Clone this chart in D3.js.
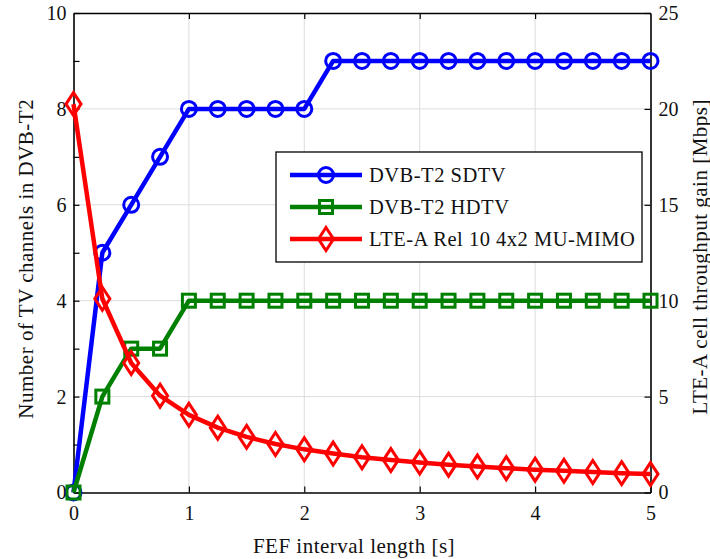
<!DOCTYPE html>
<html>
<head>
<meta charset="utf-8">
<script src="https://cdn.jsdelivr.net/npm/d3@7"></script>
<style>
  body { margin: 0; background: #fff; }
</style>
</head>
<body>
<div id="chart"></div>
<script>
const xVals = [0, 0.25, 0.5, 0.75, 1, 1.25, 1.5, 1.75, 2, 2.25, 2.5, 2.75, 3, 3.25, 3.5, 3.75, 4, 4.25, 4.5, 4.75, 5]
const sdtv = [0, 5, 6, 7, 8, 8, 8, 8, 8, 9, 9, 9, 9, 9, 9, 9, 9, 9, 9, 9, 9]
const hdtv = [0, 2, 3, 3, 4, 4, 4, 4, 4, 4, 4, 4, 4, 4, 4, 4, 4, 4, 4, 4, 4]
const lteGain = [20.25, 10.1, 6.75, 5.05, 4.05, 3.38, 2.9, 2.53, 2.25, 2.03, 1.84, 1.69, 1.56, 1.45, 1.35, 1.27, 1.19, 1.13, 1.07, 1.01, 0.96]
const seriesNames = ["DVB-T2 SDTV", "DVB-T2 HDTV", "LTE-A Rel 10 4x2 MU-MIMO"]
const seriesColors = ["#0000ff", "#008000", "#ff0000"]

const FONT = '"Liberation Serif"'

const W = 710, H = 559
let margin = { top: 13, right: 59.5, bottom: 66.5, left: 73.5 },
    width = W - margin.left - margin.right,
    height = H - margin.top - margin.bottom;

const svg = d3.select("#chart")
    .append("svg")
    .attr("width", W)
    .attr("height", H)
    .append("g")
    .attr("transform", `translate(${margin.left}, ${margin.top})`);

const x = d3.scaleLinear().domain([0, 5]).range([0, width])
const yL = d3.scaleLinear().domain([0, 10]).range([height, 0])
const yR = d3.scaleLinear().domain([0, 25]).range([height, 0])

/* grid */
svg.append("g").selectAll("line")
    .data([1, 2, 3, 4])
    .enter().append("line")
    .attr("x1", d => x(d)).attr("x2", d => x(d))
    .attr("y1", 0).attr("y2", height)
    .attr("stroke", "#dcdcdc").attr("stroke-width", 1)
svg.append("g").selectAll("line")
    .data([2, 4, 6, 8])
    .enter().append("line")
    .attr("x1", 0).attr("x2", width)
    .attr("y1", d => yL(d)).attr("y2", d => yL(d))
    .attr("stroke", "#dcdcdc").attr("stroke-width", 1)

/* axes */
const styleAxis = g => {
    g.attr("font-family", null)
    g.selectAll("path.domain").attr("stroke", "#000").attr("stroke-width", 1.6)
    g.selectAll(".tick line").attr("stroke", "#000").attr("stroke-width", 1.2)
    g.selectAll("text").style("font-size", "20px").style("font-family", FONT).attr("fill", "#111")
}

svg.append("g")
    .attr("transform", `translate(0, ${height})`)
    .call(d3.axisBottom(x).tickValues([0, 1, 2, 3, 4, 5]).tickSizeInner(-6).tickSizeOuter(0).tickPadding(13).tickFormat(d3.format("d")))
    .call(styleAxis)

svg.append("g")
    .call(d3.axisTop(x).tickValues([1, 2, 3, 4]).tickSizeInner(-6).tickSizeOuter(0).tickFormat(""))
    .call(styleAxis)

svg.append("g")
    .call(d3.axisLeft(yL).tickValues(d3.range(0, 11)).tickSizeInner(-6).tickSizeOuter(0).tickPadding(7)
        .tickFormat(d => d % 2 ? "" : d))
    .call(styleAxis)

svg.append("g")
    .attr("transform", `translate(${width}, 0)`)
    .call(d3.axisRight(yR).tickValues([0, 5, 10, 15, 20, 25]).tickSizeInner(-6).tickSizeOuter(0).tickPadding(8))
    .call(styleAxis)

/* axis titles */
const title = t => t
    .attr("text-anchor", "middle")
    .style("font-family", FONT)
    .style("font-size", "21px")
    .style("letter-spacing", "0.5px")
    .attr("fill", "#111")

svg.append("text")
    .attr("x", x(2.5) - 8)
    .attr("y", height + 60)
    .call(title)
    .text("FEF interval length [s]")

svg.append("text")
    .attr("transform", "rotate(-90)")
    .attr("x", -(height / 2) - 6)
    .attr("y", -41)
    .call(title)
    .text("Number of TV channels in DVB-T2")

svg.append("text")
    .attr("transform", "rotate(-90)")
    .attr("x", -(height / 2) - 4)
    .attr("y", width + 56)
    .call(title)
    .text("LTE-A cell throughput gain [Mbps]")

/* markers */
const circle = (g, c) => g.append("circle").attr("r", 7.5).attr("fill", "none").attr("stroke", c).attr("stroke-width", 3)
const square = (g, c) => g.append("rect").attr("x", -6.5).attr("y", -6.5).attr("width", 13).attr("height", 13).attr("fill", "none").attr("stroke", c).attr("stroke-width", 3)
const diamond = (g, c) => g.append("path").attr("d", "M0,-11.5L7.5,0L0,11.5L-7.5,0Z").attr("fill", "none").attr("stroke", c).attr("stroke-width", 3)
const markers = [circle, square, diamond]

const series = [
    { vals: sdtv, y: yL },
    { vals: hdtv, y: yL },
    { vals: lteGain, y: yR }
]

series.forEach((s, i) => {
    const line = d3.line().x((d, j) => x(xVals[j])).y(d => s.y(d))
    svg.append("path")
        .datum(s.vals)
        .attr("d", line)
        .attr("fill", "none")
        .attr("stroke", seriesColors[i])
        .attr("stroke-width", 4.5)
        .attr("stroke-linejoin", "round")
    svg.selectAll("mk" + i)
        .data(s.vals)
        .enter()
        .append("g")
        .attr("transform", (d, j) => `translate(${x(xVals[j])}, ${s.y(d)})`)
        .each(function () { markers[i](d3.select(this), seriesColors[i]) })
})

/* legend */
const legend = svg.append("g").attr("transform", `translate(${276 - margin.left}, ${152 - margin.top})`)
legend.append("rect")
    .attr("width", 366).attr("height", 110)
    .attr("fill", "#fff").attr("stroke", "#000").attr("stroke-width", 1.3)
seriesNames.forEach((name, i) => {
    const yy = 23 + i * 32
    legend.append("line")
        .attr("x1", 14).attr("x2", 86).attr("y1", yy).attr("y2", yy)
        .attr("stroke", seriesColors[i]).attr("stroke-width", 4.5)
    const g = legend.append("g").attr("transform", `translate(50, ${yy})`)
    markers[i](g, seriesColors[i])
    legend.append("text")
        .attr("x", 93).attr("y", yy + 7)
        .style("font-family", FONT)
        .style("font-size", "20.5px")
        .style("letter-spacing", "0.5px")
        .attr("fill", "#111")
        .text(name)
})
</script>
</body>
</html>
